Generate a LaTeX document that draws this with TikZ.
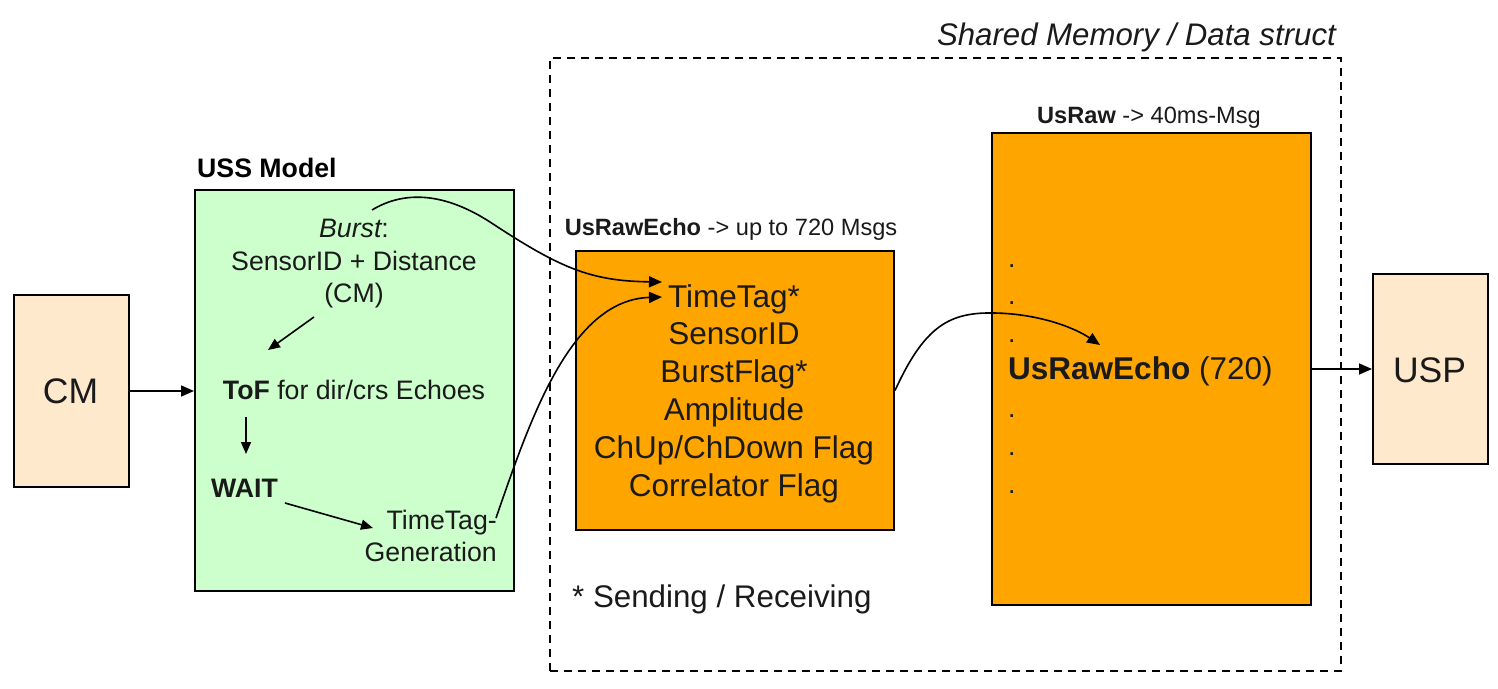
\documentclass[tikz,border=0pt]{standalone}
\usepackage{fontspec}
\setmainfont{Liberation Sans}
\usetikzlibrary{arrows.meta}
\definecolor{greenfill}{HTML}{CCFFCC}
\definecolor{orangefill}{HTML}{FFA500}
\definecolor{peachfill}{HTML}{FFE9CC}
\definecolor{txt}{HTML}{1A1A1A}
\newcommand\fsz[1]{\fontsize{#1}{#1}\selectfont}
\begin{document}
\begin{tikzpicture}[x=1pt,y=-1pt,
  box/.style={draw=black,line width=2pt,inner sep=0pt,anchor=north west},
  lbl/.style={inner sep=0pt,anchor=base,text=txt},
  big/.style={lbl,font=\fsz{26.7}},
  huge/.style={lbl,font=\fsz{31.5}},
  hdr/.style={lbl,font=\fsz{23.6}},
  dotlbl/.style={inner sep=0pt,anchor=base west,text=txt,font=\fsz{26.7}},
  conn/.style={line width=1.6pt,-{Triangle[length=13pt,width=11pt]}},
  connsm/.style={line width=1.6pt,-{Triangle[length=12pt,width=10pt]}}]
\useasboundingbox (0,0) rectangle (1498,688);

% shared memory frame
\node[box,draw,dashed,dash pattern=on 8pt off 6pt,minimum width=791,minimum height=613] (shm) at (549,57) {};
\node[inner sep=0pt,anchor=base east,font=\fsz{31.2}\itshape,text=txt] (shmlbl) at (1336,45) {Shared Memory / Data struct};

% boxes
\node[box,fill=peachfill,minimum width=115,minimum height=192] (cm) at (13,294) {};
\node[box,fill=greenfill,minimum width=319,minimum height=401] (uss) at (194,189) {};
\node[box,fill=orangefill,minimum width=318,minimum height=279] (echo) at (575,250) {};
\node[box,fill=orangefill,minimum width=319,minimum height=472] (raw) at (991,132) {};
\node[box,fill=peachfill,minimum width=115,minimum height=190] (usp) at (1372,273) {};

% box texts
\node[lbl,font=\fsz{35.5}] (cmt) at (70.5,403) {CM};
\node[lbl,font=\fsz{35.5}] (uspt) at (1429.5,382) {USP};

\node[inner sep=0pt,anchor=base west,font=\fsz{26.7}\bfseries] (usslbl) at (197,177) {USS Model};
\node[big] (burst) at (354,237) {\itshape Burst\upshape:};
\node[big] (sens) at (354,270) {SensorID + Distance};
\node[big] (cmp) at (354,302) {(CM)};
\node[big] (tof) at (354,399) {\textbf{ToF} for dir/crs Echoes};
\node[inner sep=0pt,anchor=base west,font=\fsz{26.7}\bfseries,text=txt] (wait) at (211,497) {WAIT};
\node[inner sep=0pt,anchor=base east,font=\fsz{26.7},text=txt] (ttg1) at (497,529) {TimeTag-};
\node[inner sep=0pt,anchor=base east,font=\fsz{26.7},text=txt] (ttg2) at (497,561) {Generation};

\node[hdr] (echolbl) at (731,235) {\textbf{UsRawEcho} -> up to 720 Msgs};
\node[huge] (e1) at (734,307) {TimeTag*};
\node[huge] (e2) at (734,344) {SensorID};
\node[huge] (e3) at (734,382) {BurstFlag*};
\node[huge] (e4) at (734,420) {Amplitude};
\node[huge] (e5) at (734,458) {ChUp/ChDown Flag};
\node[huge] (e6) at (734,496) {Correlator Flag};
\node[inner sep=0pt,anchor=base west,font=\fsz{31.3},text=txt] (send) at (572,607) {* Sending / Receiving};

\node[hdr] (rawlbl) at (1149,123) {\textbf{UsRaw} -> 40ms-Msg};
\node[dotlbl] (d1) at (1008,267) {.};
\node[dotlbl] (d2) at (1008,304) {.};
\node[dotlbl] (d3) at (1008,342) {.};
\node[inner sep=0pt,anchor=base west,font=\fsz{31.5},text=txt] (rawecho) at (1008,379) {\textbf{UsRawEcho} (720)};
\node[dotlbl] (d4) at (1008,417) {.};
\node[dotlbl] (d5) at (1008,455) {.};
\node[dotlbl] (d6) at (1008,493) {.};

% coordinates for connector ends
\coordinate (bstart) at (372,210);
\coordinate (tin1) at (662,282);
\coordinate (tin2) at (662,297);
\coordinate (tgout) at (496,518);
\coordinate (cmpout) at (314,317);
\coordinate (tofin) at (268,350);
\coordinate (tofout) at (246,417);
\coordinate (waitin) at (246,454);
\coordinate (waitout) at (285,503);
\coordinate (ttgin) at (373,528);
\coordinate (rawin) at (1100,345);

% connectors
\draw[conn] (cm.east) -- (cm.east -| uss.west);
\draw[conn] (raw.east |- usp.west) -- (usp.west);
\draw[connsm] (cmpout) -- (tofin);
\draw[connsm] (tofout) -- (waitin);
\draw[connsm] (waitout) -- (ttgin);
\draw[conn] (bstart) .. controls (405,190) and (445,193) .. (490,222)
  .. controls (560,268) and (590,281) .. (tin1);
\draw[conn] (tgout) .. controls (530,420) and (570,300) .. (tin2);
\draw[conn] (echo.east) .. controls (925,325) and (950,312) .. (995,313)
  .. controls (1040,314) and (1075,328) .. (rawin);
\end{tikzpicture}
\end{document}
